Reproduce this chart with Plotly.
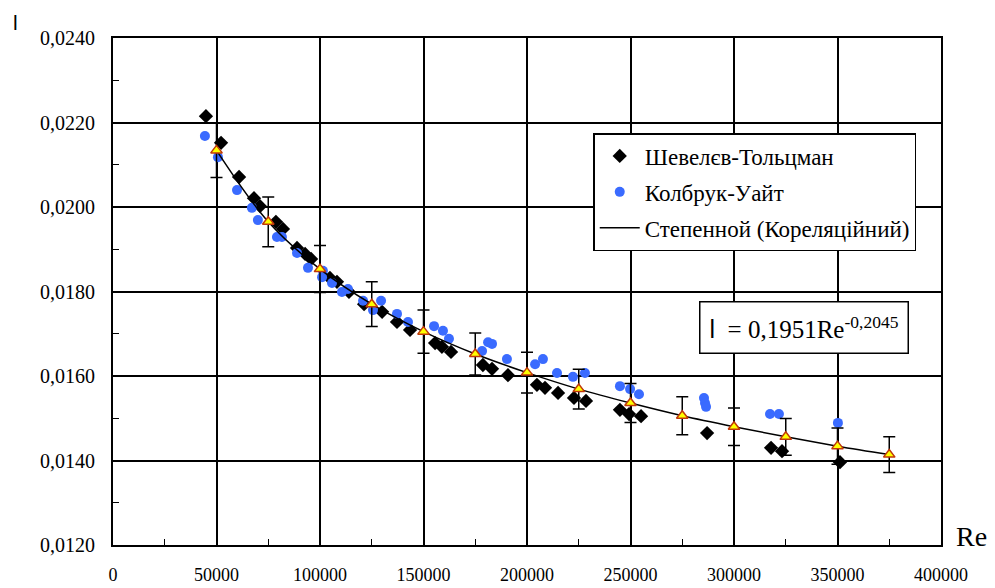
import plotly.graph_objects as go

# Шевелєв-Тольцман (diamonds)
sh_re = [44900, 52200, 60900, 68100, 71000, 78700, 82100, 88900, 92800, 95700,
         104800, 108200, 114000, 121300, 130000, 137200, 143500, 155600, 158900, 163300,
         178700, 183100, 190800, 204800, 208700, 215000, 222700, 228500, 244900, 249300,
         255100, 287000, 317900, 323200, 351200]
sh_lam = [0.02215, 0.02152, 0.02071, 0.02021, 0.02002, 0.01965, 0.01948, 0.01903, 0.01889, 0.01877,
          0.01832, 0.01823, 0.01799, 0.01770, 0.01752, 0.01728, 0.01709, 0.01678, 0.01669, 0.01657,
          0.01626, 0.01617, 0.01602, 0.01579, 0.01572, 0.01560, 0.01548, 0.01541, 0.01520, 0.01510,
          0.01505, 0.01465, 0.01430, 0.01422, 0.01396]

# Колбрук-Уайт (circles)
cw_re = [44400, 50700, 59900, 67100, 70000, 79200, 81600, 88900, 94200, 101400,
         101000, 105800, 110600, 113500, 120800, 125600, 129500, 137200, 142500, 155100,
         159400, 162300, 178300, 181200, 183100, 190300, 203900, 207700, 214500, 222200,
         228000, 244900, 249800, 254100, 285500, 286000, 286500, 317400, 321700, 350200]
cw_lam = [0.02168, 0.02118, 0.02040, 0.01998, 0.01969, 0.01929, 0.01929, 0.01891, 0.01856, 0.01849,
          0.01834, 0.01820, 0.01799, 0.01806, 0.01778, 0.01756, 0.01778, 0.01747, 0.01728, 0.01718,
          0.01707, 0.01688, 0.01659, 0.01680, 0.01676, 0.01640, 0.01628, 0.01640, 0.01607, 0.01598,
          0.01607, 0.01576, 0.01569, 0.01557, 0.01548, 0.01536, 0.01527, 0.01510, 0.01510, 0.01489]

# Кореляційний (triangles with error bars, and trend line)
kor_re = [50000, 75000, 100000, 125000, 150000, 175000, 200000, 225000,
          250000, 275000, 300000, 325000, 350000, 375000]
kor_lam = [0.02134, 0.01965, 0.01853, 0.01770, 0.01705, 0.01652, 0.01608, 0.01569,
           0.01536, 0.01506, 0.01480, 0.01456, 0.01434, 0.01414]
err_pct = 3

FONT = "Times New Roman, Liberation Serif, DejaVu Serif, serif"
SANS = "Liberation Sans, Arial, sans-serif"

fig = go.Figure()
fig.add_trace(go.Scatter(
    x=sh_re, y=sh_lam, mode="markers", name="Шевелєв-Тольцман", legendgroup="a",
    marker=dict(symbol="diamond", size=11, color="black")))
fig.add_trace(go.Scatter(
    x=cw_re, y=cw_lam, mode="markers", name="Колбрук-Уайт", legendgroup="b",
    marker=dict(symbol="circle", size=10, color="#3A6BFF")))
fig.add_trace(go.Scatter(
    x=kor_re, y=kor_lam, mode="lines", name="Степенной (Кореляційний)", legendgroup="c",
    line=dict(color="black", width=1.5, shape="spline")))
fig.add_trace(go.Scatter(
    x=kor_re, y=kor_lam, mode="markers", showlegend=False,
    marker=dict(symbol="triangle-up", size=10, color="#FFFF00",
                line=dict(color="#C0380A", width=1.5)),
    error_y=dict(type="percent", value=err_pct, color="black", thickness=1.5, width=6)))

fig.update_layout(
    width=987, height=580,
    margin=dict(l=105, r=54, t=30, b=43, autoexpand=False),
    paper_bgcolor="white", plot_bgcolor="white",
    separators=", ",
    font=dict(family=FONT, color="black", size=20),
    showlegend=True,
    legend=dict(x=0.58, y=0.8126, xanchor="left", yanchor="top",
                bgcolor="white", bordercolor="black", borderwidth=1.5,
                font=dict(family=FONT, size=23, color="black"),
                tracegroupgap=3, itemwidth=40),
    annotations=[
        dict(text="<span style=\"font-family:Liberation Sans\">l</span>  = 0,1951Re<sup>-0,2045</sup>",
             xref="paper", yref="paper", x=0.835, y=0.429, xanchor="center", yanchor="middle",
             showarrow=False, font=dict(family=FONT, size=25, color="black"),
             bordercolor="black", borderwidth=1.5, bgcolor="white", borderpad=9),
        dict(text="l", xref="paper", yref="paper", x=-0.118, y=1.058,
             xanchor="center", yanchor="top", showarrow=False,
             font=dict(family=SANS, size=21, color="black")),
        dict(text="Re", xref="paper", yref="paper", x=1.037, y=0.016,
             xanchor="center", yanchor="middle", showarrow=False,
             font=dict(family=FONT, size=28, color="black")),
    ],
)

fig.update_xaxes(
    range=[0, 400000], dtick=50000, tick0=0, tickformat="d", automargin=False,
    showgrid=True, gridcolor="black", gridwidth=1.5,
    showline=True, linecolor="black", linewidth=2, mirror=True,
    ticks="inside", ticklen=5, tickcolor="black",
    minor=dict(dtick=25000, ticks="inside", ticklen=6, tickcolor="black", showgrid=False),
    tickfont=dict(family=FONT, size=18, color="black"),
    ticklabelstandoff=12, zeroline=False)
fig.update_yaxes(
    range=[0.012, 0.024], dtick=0.002, tick0=0.012, tickformat=".4f", automargin=False,
    showgrid=True, gridcolor="black", gridwidth=1.5,
    showline=True, linecolor="black", linewidth=2, mirror=True,
    ticks="inside", ticklen=5, tickcolor="black",
    minor=dict(dtick=0.001, ticks="inside", ticklen=6, tickcolor="black", showgrid=False),
    tickfont=dict(family=FONT, size=20, color="black"),
    ticklabelstandoff=12, zeroline=False)

fig.write_html("out.html")
